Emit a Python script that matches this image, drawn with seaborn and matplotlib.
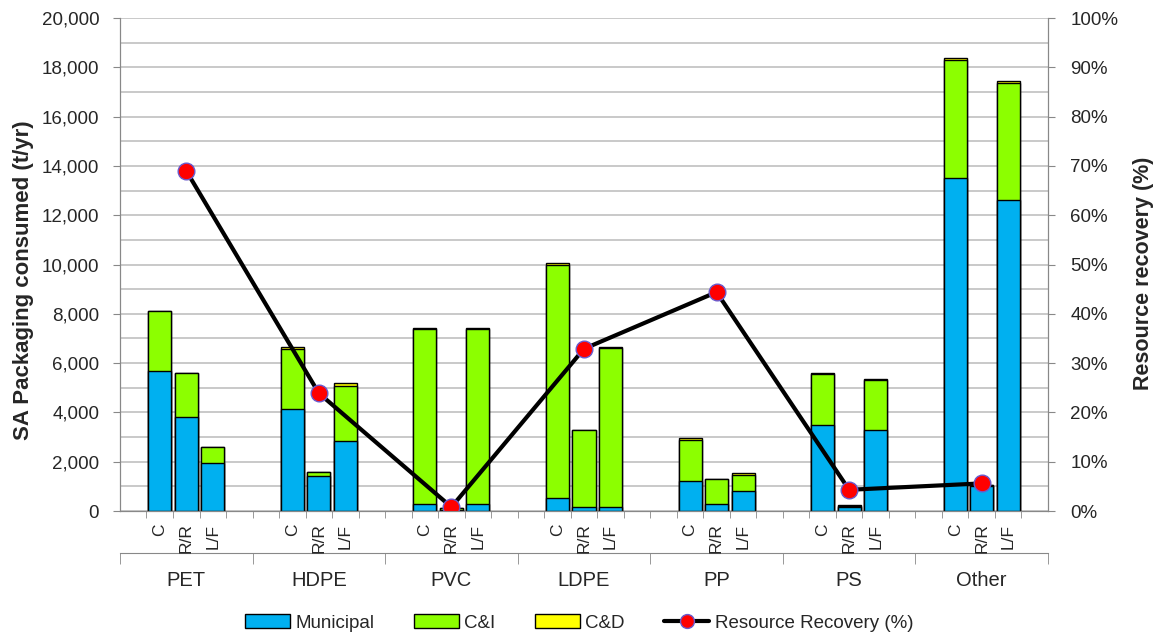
import matplotlib
matplotlib.use("Agg")
import matplotlib.pyplot as plt
import seaborn as sns
import pandas as pd
from matplotlib.patches import Patch
from matplotlib.lines import Line2D
from matplotlib.ticker import FuncFormatter, MultipleLocator

# polymer groups and the three stages within each
groups = ["PET", "HDPE", "PVC", "LDPE", "PP", "PS", "Other"]
stages = ["C", "R/R", "L/F"]

# t/yr, order: PET C, R/R, L/F, HDPE C, R/R, L/F, ...
municipal = [5700, 3800, 1950,
             4130, 1420, 2840,
             300, 60, 300,
             520, 180, 180,
             1200, 300, 800,
             3500, 180, 3290,
             13500, 1000, 12600]
cni = [2400, 1800, 650,
       2450, 180, 2230,
       7080, 60, 7080,
       9480, 3120, 6420,
       1700, 1010, 680,
       2040, 10, 2010,
       4800, 50, 4780]
cnd = [0, 0, 0,
       60, 0, 120,
       60, 0, 60,
       60, 0, 50,
       50, 0, 50,
       50, 50, 50,
       60, 0, 60]

# resource recovery (%) per polymer
recovery = [69.0, 23.9, 0.8, 32.9, 44.4, 4.3, 5.6]

c_mun = "#00B0F0"
c_cni = "#8CFF00"
c_cnd = "#FFFF00"

# five slots per group: blank, C, R/R, L/F, blank
order = []
slot_labels = []
for g in groups:
    for lab in ["", "C", "R/R", "L/F", ""]:
        order.append(f"{g}_{len(order)}")
        slot_labels.append(lab)

rows = []
k = 0
for gi, g in enumerate(groups):
    for si, s in enumerate(stages):
        rows.append({"slot": order[gi * 5 + si + 1],
                     "mun": municipal[k],
                     "mun_cni": municipal[k] + cni[k],
                     "total": municipal[k] + cni[k] + cnd[k]})
        k += 1
df = pd.DataFrame(rows)

sns.set_style("white")
plt.rcParams["font.family"] = ["Liberation Sans", "DejaVu Sans"]

fig = plt.figure(figsize=(11.58, 6.37), dpi=100)
ax = fig.add_axes([0.1036, 0.1978, 0.8014, 0.7739])

bar_kw = dict(x="slot", order=order, width=0.87, saturation=1, errorbar=None,
              edgecolor="black", linewidth=1, ax=ax)
sns.barplot(data=df, y="total", color=c_cnd, **bar_kw)
sns.barplot(data=df, y="mun_cni", color=c_cni, **bar_kw)
sns.barplot(data=df, y="mun", color=c_mun, **bar_kw)

ax.set_ylim(0, 20000)
ax.set_xlim(-0.5, len(order) - 0.5)
ax.yaxis.set_major_locator(MultipleLocator(2000))
ax.yaxis.set_minor_locator(MultipleLocator(1000))
ax.yaxis.set_major_formatter(FuncFormatter(lambda v, p: f"{int(v):,}"))
ax.grid(True, axis="y", which="both", color="#c0c0c0", linewidth=1.2)
ax.set_axisbelow(True)
ax.tick_params(axis="y", which="major", labelsize=13.5, length=5, color="#888888",
               left=True, pad=10)
ax.tick_params(axis="y", which="minor", length=0)

ax.set_xticks(range(len(order)), slot_labels, rotation=90)
ax.set_xticks([i - 0.5 for i in range(1, len(order))], minor=True)
ax.tick_params(axis="x", which="major", length=0, labelsize=12.5, pad=9)
ax.tick_params(axis="x", which="minor", length=5, color="#888888", bottom=True)
ax.set_xlabel("")
ax.set_ylabel("")

for side in ["left", "bottom", "right"]:
    ax.spines[side].set_color("#888888")
ax.spines["top"].set_visible(False)

# group axis below the stage labels
sec = ax.secondary_xaxis(-0.085)
sec.set_xticks([gi * 5 + 2 for gi in range(len(groups))], groups)
sec.set_xticks([gi * 5 - 0.5 for gi in range(len(groups) + 1)], minor=True)
sec.tick_params(axis="x", which="major", length=0, labelsize=14.5, pad=13)
sec.tick_params(axis="x", which="minor", length=8, color="#888888")
sec.spines["bottom"].set_color("#888888")

# resource recovery line on right axis
ax2 = ax.twinx()
line_x = [gi * 5 + 2 for gi in range(len(groups))]
sns.lineplot(x=line_x, y=recovery, ax=ax2, color="black", linewidth=3, sort=False,
             marker="o", markersize=12, markerfacecolor="red",
             markeredgecolor="#6a5acd", markeredgewidth=1, legend=False)
ax2.set_ylim(0, 100)
ax2.set_xlim(-0.5, len(order) - 0.5)
ax2.yaxis.set_major_locator(MultipleLocator(10))
ax2.yaxis.set_major_formatter(FuncFormatter(lambda v, p: f"{int(v)}%"))
ax2.tick_params(axis="y", labelsize=13.5, length=5, color="#888888", right=True, pad=11)
ax2.set_ylabel("")
for side in ["left", "bottom", "right"]:
    ax2.spines[side].set_color("#888888")
ax2.spines["top"].set_visible(False)
ax2.grid(False)

fig.text(24 / 1158, 1 - 280 / 637, "SA Packaging consumed (t/yr)", rotation=90,
         ha="center", va="center", fontsize=16, fontweight="bold")
fig.text(1143 / 1158, 1 - 273 / 637, "Resource recovery (%)", rotation=90,
         ha="center", va="center", fontsize=15.5, fontweight="bold")

handles = [Patch(facecolor=c_mun, edgecolor="black", label="Municipal"),
           Patch(facecolor=c_cni, edgecolor="black", label="C&I"),
           Patch(facecolor=c_cnd, edgecolor="black", label="C&D"),
           Line2D([0], [0], color="black", linewidth=3, marker="o", markersize=10,
                  markerfacecolor="red", markeredgecolor="#6a5acd",
                  label="Resource Recovery (%)")]
fig.legend(handles=handles, loc="center", ncol=4, frameon=False,
           fontsize=13.5, bbox_to_anchor=(0.5, 1 - 623 / 637), handlelength=2.4,
           columnspacing=2.1, handletextpad=0.3)

fig.savefig("out.png", dpi=100)
